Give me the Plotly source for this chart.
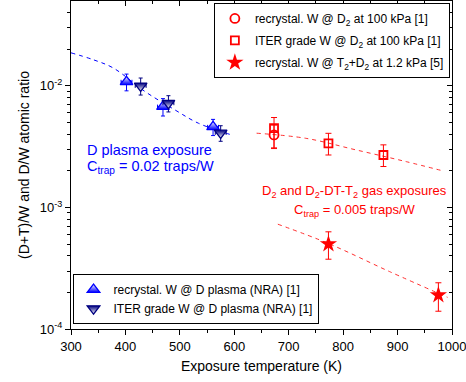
import plotly.graph_objects as go

# ---- data ----
recW_T = [402, 469, 561]
recW_y = [0.0108, 0.00675, 0.0046]
recW_xerr = [10, 10, 10]
recW_yerr = [0.0017, 0.0011, 0.0007]

iterW_T = [428, 479, 575]
iterW_y = [0.0100, 0.0072, 0.0041]
iterW_xerr = [10, 10, 10]
iterW_yerr = [0.0016, 0.0011, 0.0006]

circ_T = [673]
circ_y = [0.00395]
circ_up = [0.0008]
circ_dn = [0.0009]

sq_T = [673, 773, 874]
sq_y = [0.00449, 0.00337, 0.0027]
sq_up = [0.0010, 0.0007, 0.00057]
sq_dn = [0.0014, 0.00067, 0.00053]

star_T = [773, 975]
star_y = [0.00050, 0.00019]
star_up = [0.00013, 0.00005]
star_dn = [0.000125, 0.00005]

fitD_T = [300, 341, 378, 436, 491, 534, 595]
fitD_y = [0.0187, 0.0164, 0.0140, 0.00898, 0.00634, 0.00493, 0.00395]

fitG_T = [641, 732, 824, 916, 983]
fitG_y = [0.00408, 0.0037, 0.00297, 0.00238, 0.0020]

fitS_T = [680, 773, 885, 992]
fitS_y = [0.000728, 0.000505, 0.000297, 0.000182]

x_ticks = [300, 400, 500, 600, 700, 800, 900, 1000]
x_minor = [350, 450, 550, 650, 750, 850, 950]
y_ticks = [1e-4, 1e-3, 1e-2]
y_ticktext = ["10<sup>-4</sup>", "10<sup>-3</sup>", "10<sup>-2</sup>"]

FONT = "Liberation Sans, Arial, sans-serif"
RED = "#ff0000"
BLUE = "#0000ff"
NAVY = "#000080"

fig = go.Figure()

# fit lines
fig.add_trace(go.Scatter(x=fitD_T, y=fitD_y, mode="lines", line=dict(color=BLUE, width=1, dash="4px,4px", shape="spline"), showlegend=False))
fig.add_trace(go.Scatter(x=fitG_T, y=fitG_y, mode="lines", line=dict(color="#ff3030", width=1, dash="4px,4px", shape="spline"), showlegend=False))
fig.add_trace(go.Scatter(x=fitS_T, y=fitS_y, mode="lines", line=dict(color="#ff3030", width=1, dash="4px,4px", shape="spline"), showlegend=False))

# red (legend 1)
fig.add_trace(go.Scatter(x=circ_T, y=circ_y, mode="markers", name="recrystal. W @ D<sub>2</sub> at 100 kPa [1]",
                         marker=dict(symbol="circle-open", size=9, color=RED, line=dict(width=1.8, color=RED)),
                         error_y=dict(type="data", array=circ_up, arrayminus=circ_dn, color=RED, thickness=1, width=3),
                         legend="legend", legendgroup="a"))
fig.add_trace(go.Scatter(x=sq_T, y=sq_y, mode="markers", name="ITER grade W @ D<sub>2</sub> at 100 kPa [1]",
                         marker=dict(symbol="square-open", size=8, color=RED, line=dict(width=1.8, color=RED)),
                         error_y=dict(type="data", array=sq_up, arrayminus=sq_dn, color=RED, thickness=1, width=3),
                         legend="legend", legendgroup="b"))
fig.add_trace(go.Scatter(x=star_T, y=star_y, mode="markers", name="recrystal. W @ T<sub>2</sub>+D<sub>2</sub> at 1.2 kPa [5]",
                         marker=dict(symbol="star", size=13, color=RED, line=dict(width=0)),
                         error_y=dict(type="data", array=star_up, arrayminus=star_dn, color=RED, thickness=1, width=3),
                         legend="legend", legendgroup="c"))

# blue (legend 2)
fig.add_trace(go.Scatter(x=recW_T, y=recW_y, mode="markers", name="recrystal. W @ D plasma (NRA) [1]",
                         marker=dict(symbol="triangle-up", size=11, color="white", line=dict(width=1.3, color=BLUE),
                                     gradient=dict(type="vertical", color=BLUE)),
                         error_y=dict(type="data", array=recW_yerr, color=BLUE, thickness=1, width=2),
                         error_x=dict(type="data", array=recW_xerr, color=BLUE, thickness=1, width=2),
                         legend="legend2"))
fig.add_trace(go.Scatter(x=iterW_T, y=iterW_y, mode="markers", name="ITER grade W @ D plasma (NRA) [1]",
                         marker=dict(symbol="triangle-down", size=11, color=NAVY, line=dict(width=1.3, color=NAVY),
                                     gradient=dict(type="vertical", color="white")),
                         error_y=dict(type="data", array=iterW_yerr, color=NAVY, thickness=1, width=2),
                         error_x=dict(type="data", array=iterW_xerr, color=NAVY, thickness=1, width=2),
                         legend="legend2"))

# invisible trace for mirrored axes
fig.add_trace(go.Scatter(x=[500], y=[1e-3], xaxis="x2", yaxis="y2", mode="markers",
                         marker=dict(opacity=0), showlegend=False, hoverinfo="skip"))

minor_y = [m * 10 ** e for e in (-4, -3, -2) for m in range(2, 10)]
minor_y = [v for v in minor_y if v < 0.05]

axis_common = dict(showgrid=False, zeroline=False, linecolor="black", linewidth=1.3,
                   tickcolor="black", tickfont=dict(family=FONT, size=13, color="black"))

fig.update_layout(
    width=466, height=382,
    margin=dict(l=71, r=14, t=1, b=53),
    paper_bgcolor="white", plot_bgcolor="white",
    font=dict(family=FONT, color="black"),
    xaxis=dict(range=[300, 1000], tickvals=x_ticks, ticks="outside", ticklen=5, tickwidth=1,
               ticklabeloverflow="allow",
               minor=dict(tickvals=x_minor, ticks="outside", ticklen=3, tickcolor="black"),
               title=dict(text="Exposure temperature (K)", font=dict(family=FONT, size=14), standoff=8),
               **axis_common),
    yaxis=dict(type="log", range=[-4, -1.302], tickvals=y_ticks, ticktext=y_ticktext, ticks="outside",
               ticklen=5, tickwidth=1,
               minor=dict(tickvals=minor_y, ticks="outside", ticklen=3, tickcolor="black"),
               title=dict(text="(D+T)/W and D/W atomic ratio", font=dict(family=FONT, size=14), standoff=6),
               **axis_common),
    xaxis2=dict(range=[300, 1000], overlaying="x", side="top", tickvals=x_ticks, ticks="inside", ticklen=5,
                showticklabels=False, minor=dict(tickvals=x_minor, ticks="inside", ticklen=3, tickcolor="black"),
                **axis_common),
    yaxis2=dict(type="log", range=[-4, -1.302], overlaying="y", side="right", tickvals=y_ticks, ticks="inside",
                ticklen=5, showticklabels=False,
                minor=dict(tickvals=minor_y, ticks="inside", ticklen=3, tickcolor="black"),
                **axis_common),
    legend=dict(x=0.375, y=0.994, xanchor="left", yanchor="top", bgcolor="white",
                bordercolor="black", borderwidth=1, font=dict(family=FONT, size=12, color="black"),
                tracegroupgap=3, itemsizing="trace"),
    legend2=dict(x=0.004, y=0.015, xanchor="left", yanchor="bottom", bgcolor="white",
                 bordercolor="black", borderwidth=1, font=dict(family=FONT, size=12, color="black"),
                 tracegroupgap=0, itemwidth=30),
    showlegend=True,
)

fig.add_annotation(x=0.037, y=0.545, xref="paper", yref="paper", xanchor="left", yanchor="middle",
                   text="D plasma exposure", showarrow=False, font=dict(family=FONT, size=14.5, color=BLUE))
fig.add_annotation(x=0.037, y=0.495, xref="paper", yref="paper", xanchor="left", yanchor="middle",
                   text="C<sub>trap</sub> = 0.02 traps/W", showarrow=False, font=dict(family=FONT, size=14.5, color=BLUE))
fig.add_annotation(x=0.745, y=0.42, xref="paper", yref="paper", xanchor="center", yanchor="middle",
                   text="D<sub>2</sub> and D<sub>2</sub>-DT-T<sub>2</sub> gas exposures", showarrow=False,
                   font=dict(family=FONT, size=13, color=RED))
fig.add_annotation(x=0.745, y=0.362, xref="paper", yref="paper", xanchor="center", yanchor="middle",
                   text="C<sub>trap</sub> = 0.005 traps/W", showarrow=False, font=dict(family=FONT, size=13, color=RED))

fig.write_html("out.html")
